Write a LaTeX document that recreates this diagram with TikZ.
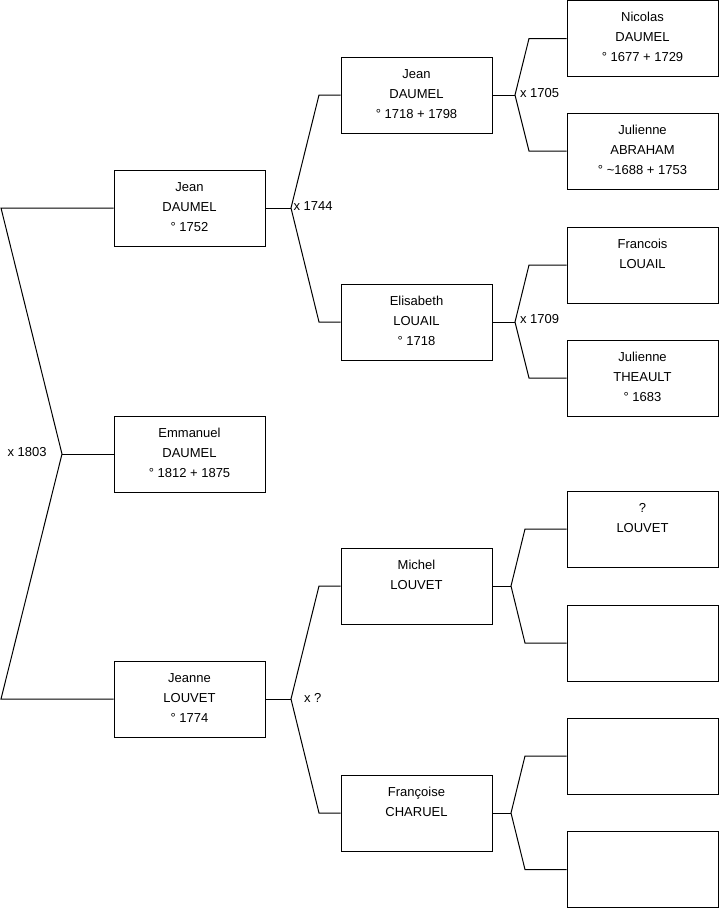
\documentclass[tikz,border=0pt]{standalone}
\usepackage{fontspec}
\setmainfont{Liberation Sans}
\newcommand{\persontext}[1]{\parbox[c][76bp][t]{151bp}{\centering\fontsize{13bp}{20bp}\selectfont\rule{0pt}{21.3bp}#1\par}}
\begin{document}
\begin{tikzpicture}[x=1bp,y=-1bp,line width=1bp,
  box/.style={draw=black, inner sep=0pt, minimum width=151bp, minimum height=76bp},
  lbl/.style={font=\fontsize{13bp}{15bp}\selectfont, inner sep=0pt, anchor=west},
  link/.style={draw=black, line join=miter}]
\useasboundingbox (0,0) rectangle (719,908);

% column 1
\node[box] (emm) at (189.5,454) {\persontext{Emmanuel\\DAUMEL\\° 1812 + 1875}};
\node[box] (jean) at (189.5,208) {\persontext{Jean\\DAUMEL\\° 1752}};
\node[box] (jeanne) at (189.5,699) {\persontext{Jeanne\\LOUVET\\° 1774}};
% column 2
\node[box] (jeanb) at (416.5,95) {\persontext{Jean\\DAUMEL\\° 1718 + 1798}};
\node[box] (elis) at (416.5,322) {\persontext{Elisabeth\\LOUAIL\\° 1718}};
\node[box] (mich) at (416.5,586) {\persontext{Michel\\LOUVET}};
\node[box] (fran) at (416.5,813) {\persontext{Françoise\\CHARUEL}};
% column 3
\node[box] (nic) at (642.5,38.5) {\persontext{Nicolas\\DAUMEL\\° 1677 + 1729}};
\node[box] (julA) at (642.5,151) {\persontext{Julienne\\ABRAHAM\\° \textasciitilde1688 + 1753}};
\node[box] (frL) at (642.5,265) {\persontext{Francois\\LOUAIL}};
\node[box] (julT) at (642.5,378) {\persontext{Julienne\\THEAULT\\° 1683}};
\node[box] (qL) at (642.5,529) {\persontext{?\\LOUVET}};
\node[box] (e1) at (642.5,643) {\persontext{}};
\node[box] (e2) at (642.5,756) {\persontext{}};
\node[box] (e3) at (642.5,869.5) {\persontext{}};

% bracket coordinates
\coordinate (c1) at (1,208);
\coordinate (m1) at (62,454);
\coordinate (c2) at (1,699);
\coordinate (v1) at (291,208); \coordinate (a1) at (319,95);  \coordinate (b1) at (319,322);
\coordinate (v2) at (291,699); \coordinate (a2) at (319,586); \coordinate (b2) at (319,813);
\coordinate (v3) at (515,95);  \coordinate (a3) at (529,38.5); \coordinate (b3) at (529,151);
\coordinate (v4) at (515,322); \coordinate (a4) at (529,265); \coordinate (b4) at (529,378);
\coordinate (v5) at (511,586); \coordinate (a5) at (525,529); \coordinate (b5) at (525,643);
\coordinate (v6) at (511,813); \coordinate (a6) at (525,756); \coordinate (b6) at (525,869.5);

% connectors
\path[link] (jean.west) -- (c1) -- (m1) -- (c2) -- (jeanne.west);
\path[link] (m1) -- (emm.west);

\path[link] (jean.east) -- (v1);
\path[link] (jeanb.west) -- (a1) -- (v1) -- (b1) -- (elis.west);

\path[link] (jeanne.east) -- (v2);
\path[link] (mich.west) -- (a2) -- (v2) -- (b2) -- (fran.west);

\path[link] (jeanb.east) -- (v3);
\path[link] (nic.west) -- (a3) -- (v3) -- (b3) -- (julA.west);

\path[link] (elis.east) -- (v4);
\path[link] (frL.west) -- (a4) -- (v4) -- (b4) -- (julT.west);

\path[link] (mich.east) -- (v5);
\path[link] (qL.west) -- (a5) -- (v5) -- (b5) -- (e1.west);

\path[link] (fran.east) -- (v6);
\path[link] (e2.west) -- (a6) -- (v6) -- (b6) -- (e3.west);

% marriage labels
\node[lbl] (l1) at (7,452) {x 1803};
\node[lbl] (l2) at (293,206) {x 1744};
\node[lbl] (l3) at (303.5,698) {x ?};
\node[lbl] (l4) at (519.5,92.7) {x 1705};
\node[lbl] (l5) at (519.5,319) {x 1709};
\end{tikzpicture}
\end{document}
